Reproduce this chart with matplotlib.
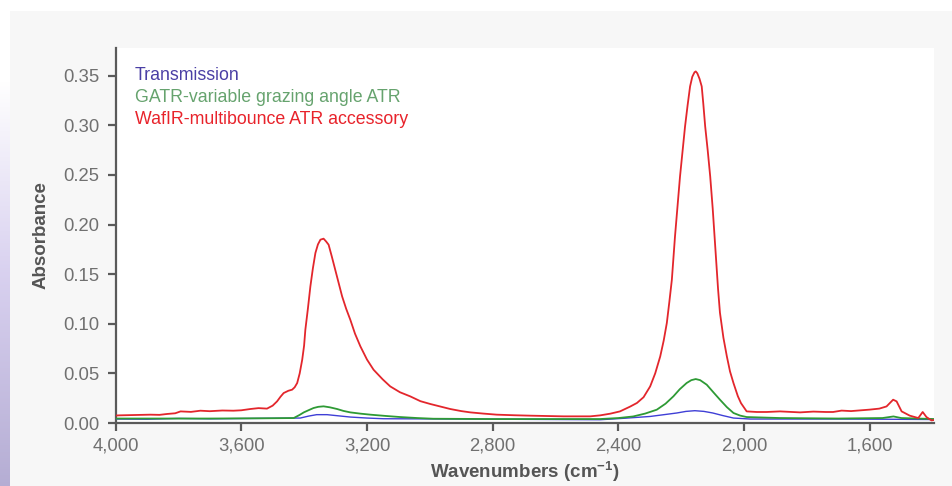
import numpy as np
import matplotlib
matplotlib.use("Agg")
import matplotlib.pyplot as plt
from matplotlib.patches import Rectangle

plt.rcParams['font.family'] = ['Liberation Sans', 'DejaVu Sans']
plt.rcParams['mathtext.fontset'] = 'custom'
plt.rcParams['mathtext.rm'] = 'Liberation Sans'
plt.rcParams['mathtext.bf'] = 'Liberation Sans:bold'
plt.rcParams['mathtext.default'] = 'bf'

# ---- data ----
red_wn = [4000, 3989, 3940, 3889, 3860, 3836, 3810, 3793, 3760, 3730, 3700, 3660, 3625, 3600,
          3571, 3545, 3518, 3500, 3486, 3475, 3465, 3450, 3438, 3430, 3422, 3414, 3406, 3400,
          3396, 3388, 3380, 3372, 3364, 3356, 3348, 3338, 3330, 3322, 3312, 3301, 3290, 3279,
          3266, 3253, 3238, 3221, 3200, 3179, 3150, 3126, 3095, 3062, 3030, 2999, 2965, 2935,
          2900, 2871, 2830, 2787, 2730, 2681, 2575, 2490, 2458, 2426, 2395, 2363, 2341, 2320,
          2299, 2283, 2267, 2256, 2246, 2238, 2230, 2220, 2212, 2204, 2196, 2188, 2180, 2172,
          2165, 2158, 2154, 2149, 2142, 2135, 2130, 2124, 2116, 2108, 2100, 2095, 2089, 2083,
          2077, 2066, 2055, 2045, 2034, 2020, 2010, 2003, 1992, 1960, 1928, 1886, 1822, 1780,
          1740, 1717, 1690, 1660, 1632, 1600, 1570, 1547, 1535, 1526, 1515, 1499, 1473, 1446,
          1432, 1420, 1404, 1396]
red_abs = [0.0075, 0.0077, 0.0080, 0.0084, 0.0082, 0.0091, 0.0098, 0.0117, 0.0112, 0.0124,
           0.0119, 0.0126, 0.0124, 0.0128, 0.0141, 0.0150, 0.0145, 0.0175, 0.0218, 0.0265,
           0.0302, 0.0325, 0.0336, 0.0360, 0.0403, 0.0500, 0.0638, 0.0780, 0.0940, 0.1150,
           0.1377, 0.1560, 0.1714, 0.1800, 0.1848, 0.1858, 0.1830, 0.1797, 0.1680, 0.1546,
           0.1410, 0.1276, 0.1150, 0.1041, 0.0900, 0.0773, 0.0640, 0.0537, 0.0440, 0.0369,
           0.0310, 0.0268, 0.0220, 0.0192, 0.0165, 0.0141, 0.0120, 0.0107, 0.0095, 0.0084,
           0.0078, 0.0074, 0.0067, 0.0067, 0.0077, 0.0094, 0.0117, 0.0165, 0.0202, 0.0260,
           0.0369, 0.0500, 0.0671, 0.0830, 0.1008, 0.1220, 0.1444, 0.1881, 0.2180, 0.2486,
           0.2740, 0.2990, 0.3200, 0.3393, 0.3490, 0.3535, 0.3544, 0.3525, 0.3470, 0.3393,
           0.3220, 0.2990, 0.2750, 0.2486, 0.2160, 0.1918, 0.1616, 0.1350, 0.1112, 0.0860,
           0.0671, 0.0520, 0.0403, 0.0270, 0.0200, 0.0167, 0.0117, 0.0111, 0.0111, 0.0117,
           0.0107, 0.0115, 0.0111, 0.0111, 0.0125, 0.0120, 0.0127, 0.0135, 0.0145, 0.0167,
           0.0205, 0.0235, 0.0218, 0.0117, 0.0074, 0.0050, 0.0111, 0.0060, 0.0026, 0.0030]

green_wn = [4000, 3700, 3500, 3433, 3415, 3401, 3385, 3370, 3355, 3338, 3318, 3295, 3275, 3253,
            3220, 3189, 3140, 3094, 3040, 2989, 2800, 2600, 2458, 2400, 2353, 2315, 2278, 2250,
            2225, 2205, 2183, 2168, 2154, 2140, 2119, 2098, 2077, 2055, 2034, 2013, 1992, 1886,
            1700, 1560, 1525, 1500, 1396]
green_abs = [0.0045, 0.0045, 0.0048, 0.0050, 0.0080, 0.0107, 0.0130, 0.0151, 0.0163, 0.0168,
             0.0158, 0.0141, 0.0122, 0.0107, 0.0094, 0.0084, 0.0071, 0.0060, 0.0050, 0.0043,
             0.0040, 0.0040, 0.0040, 0.0050, 0.0066, 0.0095, 0.0134, 0.0195, 0.0269, 0.0340,
             0.0403, 0.0432, 0.0443, 0.0432, 0.0386, 0.0310, 0.0235, 0.0160, 0.0101, 0.0075,
             0.0060, 0.0050, 0.0045, 0.0050, 0.0066, 0.0050, 0.0040]

blue_wn = [4000, 3900, 3800, 3700, 3600, 3412, 3385, 3360, 3327, 3290, 3253, 3200, 3148, 2900,
           2458, 2380, 2299, 2255, 2214, 2185, 2157, 2128, 2100, 2068, 2034, 1981, 1700, 1550,
           1396]
blue_abs = [0.0040, 0.0038, 0.0046, 0.0042, 0.0045, 0.0050, 0.0070, 0.0084, 0.0084, 0.0072,
            0.0060, 0.0050, 0.0043, 0.0040, 0.0033, 0.0048, 0.0066, 0.0084, 0.0101, 0.0117,
            0.0124, 0.0117, 0.0101, 0.0075, 0.0050, 0.0040, 0.0040, 0.0038, 0.0035]

series_names = ["Transmission", "GATR-variable grazing angle ATR", "WafIR-multibounce ATR accessory"]
yticks = [0.00, 0.05, 0.10, 0.15, 0.20, 0.25, 0.30, 0.35]
xticks = [4000, 3600, 3200, 2800, 2400, 2000, 1600]

W, H = 952, 486
fig = plt.figure(figsize=(W / 100, H / 100), dpi=100, facecolor='white')

# gray panel
fig.patches.append(Rectangle((10 / W, 0), 1 - 10 / W, 1 - 11 / H, transform=fig.transFigure,
                             facecolor='#f7f7f7', edgecolor='none', zorder=-10))
# left lavender gradient strip
gax = fig.add_axes([0, 0, 10 / W, 1 - 11 / H])
gax.set_axis_off()
top = np.array([1.0, 1.0, 1.0])
mid = np.array([0.85, 0.82, 0.94])
bot = np.array([0.71, 0.68, 0.83])
img = np.zeros((256, 1, 3))
for i, t in enumerate(np.linspace(0, 1, 256)):
    if t < 0.15:
        c = top
    elif t < 0.55:
        f = (t - 0.15) / 0.40
        c = top * (1 - f) + mid * f
    else:
        f = (t - 0.55) / 0.45
        c = mid * (1 - f) + bot * f
    img[i, 0] = c
gax.imshow(img, aspect='auto', extent=[0, 1, 0, 1])

ax = fig.add_axes([115.5 / W, 1 - 423 / H, (934 - 115.5) / W, (423 - 48) / H])
ax.set_facecolor('white')
ax.set_zorder(2)

ax.plot(blue_wn, blue_abs, color='#3f3fd6', lw=1.0, zorder=3)
ax.plot(green_wn, green_abs, color='#2e9a35', lw=1.3, zorder=4)
ax.plot(red_wn, red_abs, color='#e3262c', lw=1.3, zorder=5)

ax.set_xlim(4000, 1396)
ax.set_ylim(0, 0.378)
ax.set_xticks(xticks)
ax.set_xticklabels([f"{v:,}" for v in xticks])
ax.set_yticks(yticks)
ax.set_yticklabels([f"{v:.2f}" for v in yticks])

for s in ['top', 'right']:
    ax.spines[s].set_visible(False)
for s in ['left', 'bottom']:
    ax.spines[s].set_color('#5a5a5a')
    ax.spines[s].set_linewidth(1.6)
ax.tick_params(axis='both', colors='#5a5a5a', width=1.6, length=5.5, labelsize=13.3,
               labelcolor='#707070')
ax.tick_params(axis='y', pad=6)
ax.tick_params(axis='x', pad=5)

ax.set_ylabel("Absorbance", fontsize=13.5, fontweight='bold', color='#555555', labelpad=10)
ax.set_xlabel(r"Wavenumbers (cm$^{-1}$)", fontsize=13.5, fontweight='bold', color='#555555',
              labelpad=4)

leg_colors = ['#4a3fa5', '#66a36e', '#e8232b']
for i, (name, c) in enumerate(zip(series_names, leg_colors)):
    fig.text(135 / W, 1 - (75 + 22 * i) / H, name, fontsize=12.8, color=c, va='center',
             zorder=10)

fig.savefig("out.png", dpi=100, facecolor=fig.get_facecolor())
